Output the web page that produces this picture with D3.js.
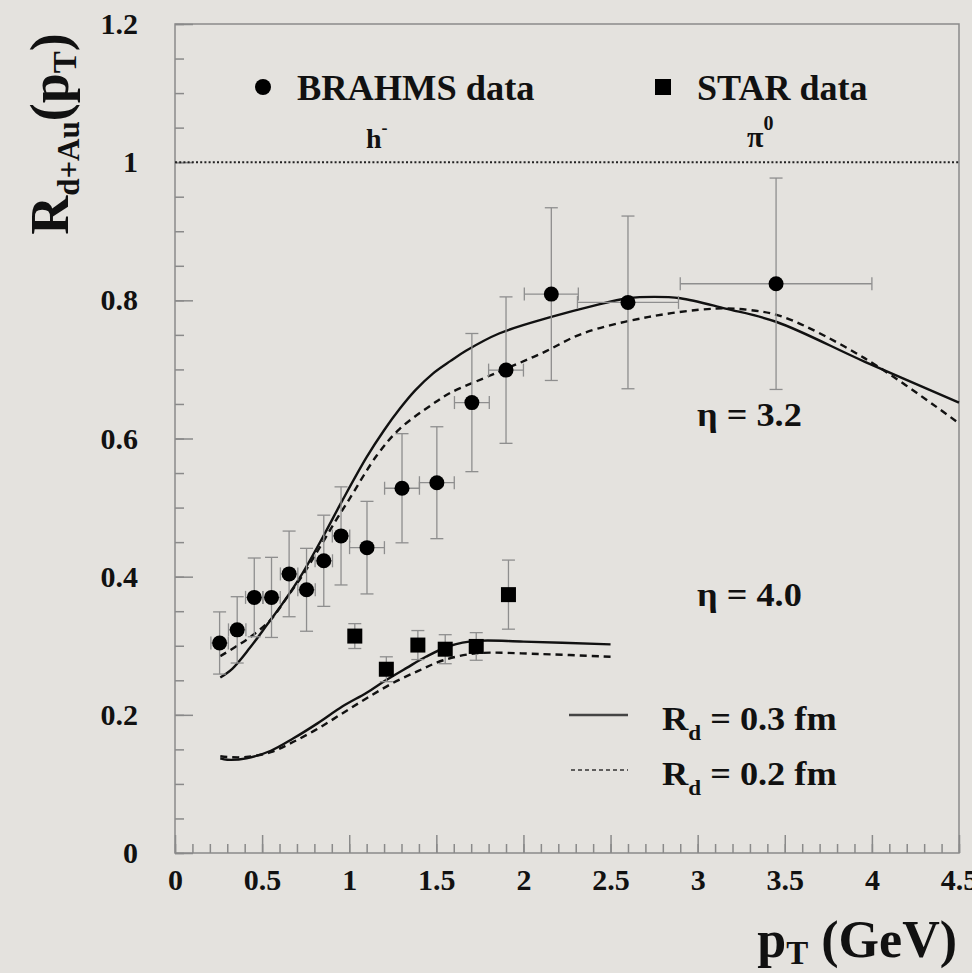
<!DOCTYPE html>
<html lang="en">
<head>
    <meta charset="utf-8">
    <title>R dAu vs pT</title>
    <script src="https://d3js.org/d3.v7.min.js"></script>
    <style>
        body { margin: 0; background: #e4e2de; }
        svg { display: block; }
        svg text { font-family: "Liberation Serif", "DejaVu Serif", serif; font-weight: bold; fill: #111; }
        .frame { fill: none; stroke: #8a8a8a; stroke-width: 1.5px; }
        .axis path { display: none; }
        .axis line { stroke: #8a8a8a; stroke-width: 1.5px; }
        .axis text { font-size: 30px; }
        .err { stroke: #8e8e8e; stroke-width: 1.3px; }
        .curve { fill: none; stroke: #111; stroke-width: 2.4px; }
    </style>
</head>
<body>
<svg width="972" height="973"></svg>
<script>
// BRAHMS h- points, eta = 3.2
var brahmsPt    = [0.256, 0.357, 0.455, 0.554, 0.655, 0.755, 0.854, 0.953, 1.102, 1.303, 1.503, 1.704, 1.90, 2.16, 2.60, 3.45];
var brahmsR     = [0.304, 0.323, 0.370, 0.370, 0.404, 0.381, 0.423, 0.459, 0.442, 0.528, 0.536, 0.652, 0.699, 0.809, 0.797, 0.824];
var brahmsErr   = [0.045, 0.048, 0.057, 0.058, 0.062, 0.060, 0.066, 0.071, 0.067, 0.079, 0.081, 0.100, 0.106, 0.125, 0.125, 0.153];
var brahmsPtErr = [0.05, 0.05, 0.05, 0.05, 0.05, 0.05, 0.05, 0.05, 0.1, 0.1, 0.1, 0.1, 0.1, 0.155, 0.29, 0.55];

// STAR pi0 points, eta = 4.0
var starPt  = [1.032, 1.213, 1.394, 1.551, 1.729, 1.914];
var starR   = [0.314, 0.266, 0.301, 0.295, 0.299, 0.374];
var starErr = [0.018, 0.018, 0.021, 0.021, 0.020, 0.050];

// model curves, Rd = 0.3 fm (solid) and 0.2 fm (dashed)
var solid32Pt  = [0.26, 0.33, 0.43, 0.53, 0.62, 0.72, 0.85, 0.96, 1.1, 1.2, 1.29, 1.38, 1.48, 1.58, 1.67, 1.86, 2.16, 2.4, 2.6, 2.75, 2.9, 3.16, 3.45, 3.96, 4.5];
var solid32R   = [0.254, 0.267, 0.297, 0.331, 0.362, 0.400, 0.458, 0.510, 0.573, 0.612, 0.643, 0.670, 0.694, 0.712, 0.727, 0.752, 0.776, 0.792, 0.803, 0.805, 0.803, 0.788, 0.769, 0.711, 0.652];
var dashed32Pt = [0.26, 0.37, 0.45, 0.55, 0.64, 0.74, 0.83, 0.92, 1.0, 1.16, 1.29, 1.48, 1.58, 1.77, 1.9, 2.11, 2.34, 2.72, 3.1, 3.3, 3.49, 3.96, 4.5];
var dashed32R  = [0.285, 0.302, 0.316, 0.338, 0.369, 0.405, 0.442, 0.480, 0.512, 0.576, 0.614, 0.650, 0.666, 0.687, 0.701, 0.724, 0.752, 0.776, 0.788, 0.786, 0.776, 0.716, 0.622];
var solid40Pt  = [0.26, 0.3, 0.41, 0.55, 0.68, 0.82, 0.96, 1.1, 1.21, 1.33, 1.44, 1.58, 1.73, 2.0, 2.5];
var solid40R   = [0.137, 0.135, 0.137, 0.148, 0.166, 0.188, 0.212, 0.232, 0.250, 0.268, 0.284, 0.300, 0.307, 0.306, 0.302];
var dashed40Pt = [0.26, 0.3, 0.41, 0.55, 0.68, 0.82, 0.96, 1.1, 1.25, 1.4, 1.54, 1.73, 2.1, 2.5];
var dashed40R  = [0.140, 0.139, 0.139, 0.146, 0.161, 0.180, 0.202, 0.224, 0.246, 0.264, 0.279, 0.289, 0.288, 0.284];

var xMajor = [0, 0.5, 1, 1.5, 2, 2.5, 3, 3.5, 4, 4.5];
var yMajor = [0, 0.2, 0.4, 0.6, 0.8, 1, 1.2];

var svg = d3.select("svg");
var x = d3.scaleLinear().domain([0, 4.5]).range([175, 959]);
var y = d3.scaleLinear().domain([0, 1.2]).range([853, 24]);

function fmt(d) { return String(+d.toFixed(1)); }

// minor + major ticks, pointing inward
svg.append("g").attr("class", "axis").attr("transform", "translate(0,853)")
    .call(d3.axisBottom(x).tickValues(d3.range(0, 4.51, 0.1)).tickSize(-9).tickFormat(""));
svg.append("g").attr("class", "axis").attr("transform", "translate(0,853)")
    .call(d3.axisBottom(x).tickValues(xMajor).tickSize(-18).tickPadding(16).tickFormat(fmt));
svg.append("g").attr("class", "axis").attr("transform", "translate(175,0)")
    .call(d3.axisLeft(y).tickValues(d3.range(0, 1.201, 0.05)).tickSize(-9).tickFormat(""));
svg.append("g").attr("class", "axis").attr("transform", "translate(175,0)")
    .call(d3.axisLeft(y).tickValues(yMajor).tickSize(-18).tickPadding(37).tickFormat(fmt));

svg.append("rect").attr("class", "frame")
    .attr("x", x(0)).attr("y", y(1.2))
    .attr("width", x(4.5) - x(0)).attr("height", y(0) - y(1.2));

// R = 1 reference
svg.append("line")
    .attr("x1", x(0)).attr("x2", x(4.5)).attr("y1", y(1)).attr("y2", y(1))
    .attr("stroke", "#222").attr("stroke-width", 2).attr("stroke-dasharray", "2,2.2");

// curves
function drawCurve(pts, vals, dash) {
    var data = pts.map(function (p, i) { return [p, vals[i]]; });
    var line = d3.line()
        .x(function (d) { return x(d[0]); })
        .y(function (d) { return y(d[1]); })
        .curve(d3.curveCatmullRom.alpha(0.5));
    svg.append("path").datum(data).attr("class", "curve")
        .attr("stroke-dasharray", dash ? "7,5" : null)
        .attr("d", line);
}
drawCurve(solid32Pt, solid32R, false);
drawCurve(dashed32Pt, dashed32R, true);
drawCurve(solid40Pt, solid40R, false);
drawCurve(dashed40Pt, dashed40R, true);

// error bars
var cap = 6.5;
var errs = svg.append("g");
function seg(x1, y1, x2, y2) {
    errs.append("line").attr("class", "err").attr("x1", x1).attr("y1", y1).attr("x2", x2).attr("y2", y2);
}
brahmsPt.forEach(function (p, i) {
    var cx = x(p), cy = y(brahmsR[i]);
    var y1 = y(brahmsR[i] + brahmsErr[i]), y2 = y(brahmsR[i] - brahmsErr[i]);
    var x1 = x(p - brahmsPtErr[i]), x2 = x(p + brahmsPtErr[i]);
    seg(cx, y1, cx, y2);
    seg(cx - cap, y1, cx + cap, y1);
    seg(cx - cap, y2, cx + cap, y2);
    seg(x1, cy, x2, cy);
    seg(x1, cy - cap, x1, cy + cap);
    seg(x2, cy - cap, x2, cy + cap);
});
starPt.forEach(function (p, i) {
    var cx = x(p);
    var y1 = y(starR[i] + starErr[i]), y2 = y(starR[i] - starErr[i]);
    seg(cx, y1, cx, y2);
    seg(cx - cap, y1, cx + cap, y1);
    seg(cx - cap, y2, cx + cap, y2);
});

// markers
svg.append("g").selectAll("circle").data(brahmsPt).enter().append("circle")
    .attr("cx", function (d) { return x(d); })
    .attr("cy", function (d, i) { return y(brahmsR[i]); })
    .attr("r", 7.5).attr("fill", "#000");
svg.append("g").selectAll("rect").data(starPt).enter().append("rect")
    .attr("x", function (d) { return x(d) - 7.5; })
    .attr("y", function (d, i) { return y(starR[i]) - 7.5; })
    .attr("width", 15).attr("height", 15).attr("fill", "#000");

// text a bit wider than the font, like the original print
function label(px, py, size, sx) {
    return svg.append("text")
        .attr("transform", "translate(" + px + "," + py + ") scale(" + sx + ",1)")
        .attr("font-size", size);
}

// legend
svg.append("circle").attr("cx", 263).attr("cy", 87).attr("r", 8).attr("fill", "#000");
label(297, 100, 35, 1.04).text("BRAHMS data");
svg.append("rect").attr("x", 655).attr("y", 79).attr("width", 16).attr("height", 16).attr("fill", "#000");
label(697, 100, 35, 1.03).text("STAR data");

var h = label(366, 148, 28, 1).text("h");
h.append("tspan").attr("font-size", 18).attr("dy", -14).text("-");
var pi = label(747, 147, 30, 1).text("π");
pi.append("tspan").attr("font-size", 20).attr("dy", -17).text("0");

label(697, 426, 33, 1.1).text("η = 3.2");
label(697, 606, 33, 1.1).text("η = 4.0");

svg.append("line").attr("x1", 569).attr("x2", 628).attr("y1", 715).attr("y2", 715)
    .attr("stroke", "#444").attr("stroke-width", 2.5);
svg.append("line").attr("x1", 571).attr("x2", 628).attr("y1", 770).attr("y2", 770)
    .attr("stroke", "#333").attr("stroke-width", 1.6).attr("stroke-dasharray", "4,3");
var l1 = label(662, 730, 33, 1.1).text("R");
l1.append("tspan").attr("font-size", 21).attr("dy", 10).text("d");
l1.append("tspan").attr("dy", -10).text(" = 0.3 fm");
var l2 = label(662, 785, 33, 1.1).text("R");
l2.append("tspan").attr("font-size", 21).attr("dy", 10).text("d");
l2.append("tspan").attr("dy", -10).text(" = 0.2 fm");

// axis titles
var yl = svg.append("text").attr("transform", "translate(68,134) rotate(-90)")
    .attr("text-anchor", "middle").attr("font-size", 54).text("R");
yl.append("tspan").attr("font-size", 31).attr("dy", 11).text("d+Au");
yl.append("tspan").attr("font-size", 54).attr("dy", -11).text("(p");
yl.append("tspan").attr("font-size", 33).attr("dy", 8).text("T");
yl.append("tspan").attr("font-size", 54).attr("dy", -8).text(")");

var xl = svg.append("text").attr("x", 957).attr("y", 957)
    .attr("text-anchor", "end").attr("font-size", 52).text("p");
xl.append("tspan").attr("font-size", 33).attr("dy", 7).text("T");
xl.append("tspan").attr("font-size", 52).attr("dy", -7).text(" (GeV)");
</script>
</body>
</html>
